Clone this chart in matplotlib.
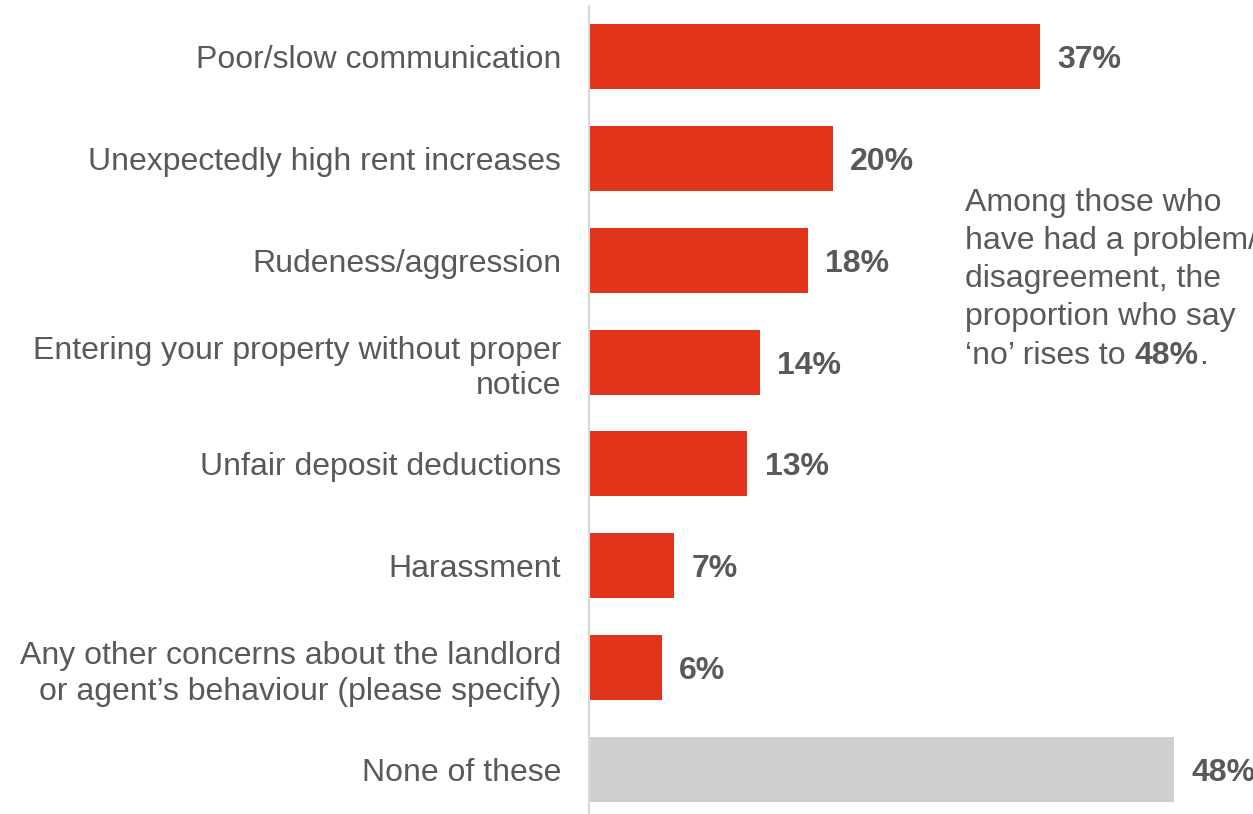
import matplotlib
matplotlib.use("Agg")
import matplotlib.pyplot as plt

categories = [
    "Poor/slow communication",
    "Unexpectedly high rent increases",
    "Rudeness/aggression",
    "Entering your property without proper\nnotice",
    "Unfair deposit deductions",
    "Harassment",
    "Any other concerns about the landlord\nor agent\u2019s behaviour (please specify)",
    "None of these",
]
values = [37, 20, 18, 14, 13, 7, 6, 48]
value_labels = ["37%", "20%", "18%", "14%", "13%", "7%", "6%", "48%"]

RED = "#E2341A"
GREY = "#D0CECF"
TEXT = "#595959"
colors = [RED] * 7 + [GREY]
FS = 23

plt.rcParams["font.family"] = ["Liberation Sans", "DejaVu Sans"]

fig = plt.figure(figsize=(12.53, 8.14), dpi=100)
W, H = 1253, 814
left, right = 589, 1253
top, bottom = 6, 820
ax = fig.add_axes([left / W, (H - bottom) / H, (right - left) / W, (bottom - top) / H])

y = list(range(len(categories)))
ax.barh(y, values, height=0.64, color=colors, zorder=2)
ax.set_xlim(0, (right - left) / 12.19)
ax.set_ylim(len(categories) - 0.5, -0.5)

for yi, v, lab in zip(y, values, value_labels):
    ax.text(v + 1.4, yi, lab, va="center_baseline", ha="left", fontsize=FS,
            fontweight="bold", color=TEXT)

ax.set_yticks(y)
ax.set_yticklabels(categories, fontsize=FS, color=TEXT, linespacing=1.25)
ax.tick_params(axis="y", length=0, pad=20)
ax.set_xticks([])
for s in ["top", "right", "bottom"]:
    ax.spines[s].set_visible(False)
ax.spines["left"].set_color("#D9D9D9")
ax.spines["left"].set_linewidth(1.5)
for lbl in ax.get_yticklabels():
    lbl.set_horizontalalignment("right")

# side note about respondents who had a problem
note_x = 965 / W
lines = ["Among those who", "have had a problem/", "disagreement, the", "proportion who say"]
for i, line in enumerate(lines):
    fig.text(note_x, 1 - (200 + 38 * i) / H, line, fontsize=FS, color=TEXT,
             va="center_baseline")
t = fig.text(note_x, 1 - 352 / H, "\u2018no\u2019 rises to ", fontsize=FS, color=TEXT,
             va="center_baseline")
fig.canvas.draw()
bb = t.get_window_extent()
t2 = fig.text(bb.x1 / W, 1 - 352 / H, "48%", fontsize=FS, color=TEXT,
              va="center_baseline", fontweight="bold")
fig.canvas.draw()
bb2 = t2.get_window_extent()
fig.text(bb2.x1 / W, 1 - 352 / H, ".", fontsize=FS, color=TEXT, va="center_baseline")

fig.savefig("out.png", dpi=100)
